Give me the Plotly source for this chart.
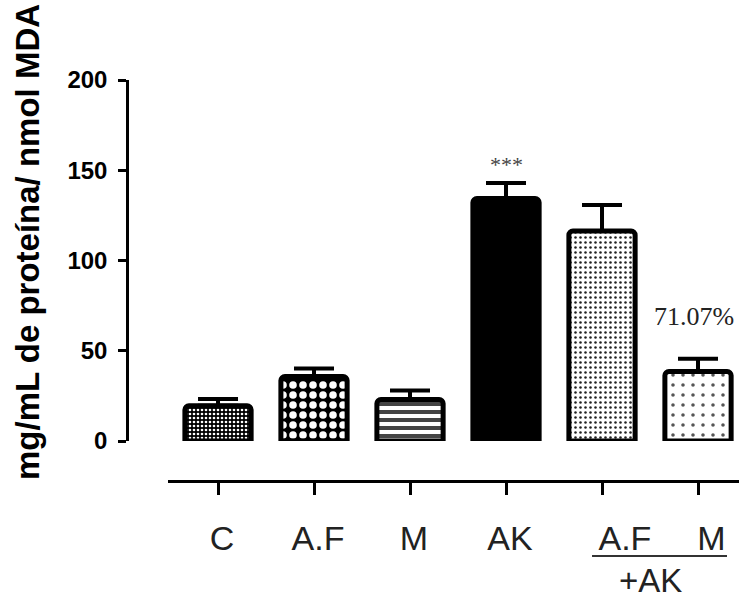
import plotly.graph_objects as go

# ---- data ----
categories = ["C", "A.F", "M", "AK", "A.F+AK", "M+AK"]
values = [19.5, 35.7, 23.0, 134.3, 116.3, 38.5]
sem = [3.8, 4.5, 5.0, 8.7, 14.4, 7.1]
tick_labels = ["C", "A.F", "M", "AK", "&nbsp;&nbsp;&nbsp;&nbsp;A.F", "&nbsp;&nbsp;M"]
y_ticks = [0, 50, 100, 150, 200]
combo_label = "+AK"
signif_label = "***"
percent_label = "71.07%"
y_title = "mg/mL de proteína/ nmol MDA"

# ---- style ----
pat_shape = [".", ".", "-", "", ".", "."]
pat_bg = ["black", "black", "white", "black", "white", "white"]
pat_fg = ["white", "white", "#444444", "black", "#222222", "#555555"]
pat_size = [4, 10, 8, 8, 5, 10]
pat_solid = [0.35, 0.45, 0.5, 0.3, 0.2, 0.1]

W, H = 739, 599
ML, MR, MT, MB = 127, 0, 80, 99
PW, PH = W - ML - MR, H - MT - MB

fig = go.Figure()
fig.add_trace(go.Bar(
    x=categories, y=values,
    width=0.69,
    marker=dict(
        color="black",
        line=dict(color="black", width=5),
        cornerradius=4,
        pattern=dict(shape=pat_shape, bgcolor=pat_bg, fgcolor=pat_fg,
                     size=pat_size, solidity=pat_solid, fillmode="replace"),
    ),
    error_y=dict(type="data", symmetric=False, array=sem,
                 arrayminus=[0] * len(sem), color="black",
                 thickness=4, width=20),
    cliponaxis=False,
    hoverinfo="skip",
    showlegend=False,
))

fig.update_layout(
    width=W, height=H,
    margin=dict(l=ML, r=MR, t=MT, b=MB, autoexpand=False),
    paper_bgcolor="white", plot_bgcolor="white",
    font=dict(family="Liberation Sans, Arial, sans-serif", color="black"),
    xaxis=dict(
        type="category",
        domain=[41 / PW, 1],
        range=[-0.521, 5.427],
        anchor="free", position=(500 - 481) / PH,
        showline=True, linecolor="black", linewidth=2.5,
        ticks="outside", ticklen=12, tickwidth=2.5, tickcolor="black",
        tickvals=categories, ticktext=tick_labels,
        tickfont=dict(size=34, color="#222222", family="Liberation Sans, Arial, sans-serif"),
        showgrid=False, zeroline=False, automargin=False,
        ticklabelshift=4, ticklabelstandoff=14,
    ),
    yaxis=dict(
        domain=[(500 - 441) / PH, 1],
        range=[0, 200],
        anchor="free", position=0,
        showline=True, linecolor="black", linewidth=2.5,
        ticks="outside", ticklen=8, tickwidth=2.5, tickcolor="black",
        tickvals=y_ticks,
        tickfont=dict(size=24, color="black", family="Liberation Sans, Arial, sans-serif", weight="bold"),
        showgrid=False, zeroline=False, automargin=False,
        ticklabelstandoff=6,
    ),
)

# underline grouping the combined treatments
fig.add_shape(type="line", xref="x", yref="paper",
              x0=3.896, x1=5.302, y0=(500 - 556) / PH, y1=(500 - 556) / PH,
              line=dict(color="#333333", width=2))

fig.add_annotation(x=4.5, xref="x", y=(500 - 580) / PH, yref="paper",
                   text=combo_label, showarrow=False, xanchor="center", yanchor="middle",
                   font=dict(size=33, color="#222222", family="Liberation Sans, Arial, sans-serif"))

fig.add_annotation(x="AK", y=values[3] + sem[3], text=signif_label, showarrow=False,
                   xanchor="center", yanchor="bottom", yshift=4,
                   font=dict(size=22, color="#444444", family="Liberation Serif, Times New Roman, serif"))

fig.add_annotation(x=4.96, y=values[5] + sem[5], text=percent_label, showarrow=False,
                   xanchor="center", yanchor="bottom", yshift=26,
                   font=dict(size=26, color="#222222", family="Liberation Serif, Times New Roman, serif"))

fig.add_annotation(x=(28 - ML) / PW, xref="paper", y=(500 - 242) / PH, yref="paper",
                   text=y_title, textangle=-90, showarrow=False,
                   xanchor="center", yanchor="middle",
                   font=dict(size=33, color="black", family="Liberation Sans, Arial, sans-serif", weight="bold"))

fig.write_html("out.html", config={"displayModeBar": False},
               post_script="document.body.style.margin='0';")
